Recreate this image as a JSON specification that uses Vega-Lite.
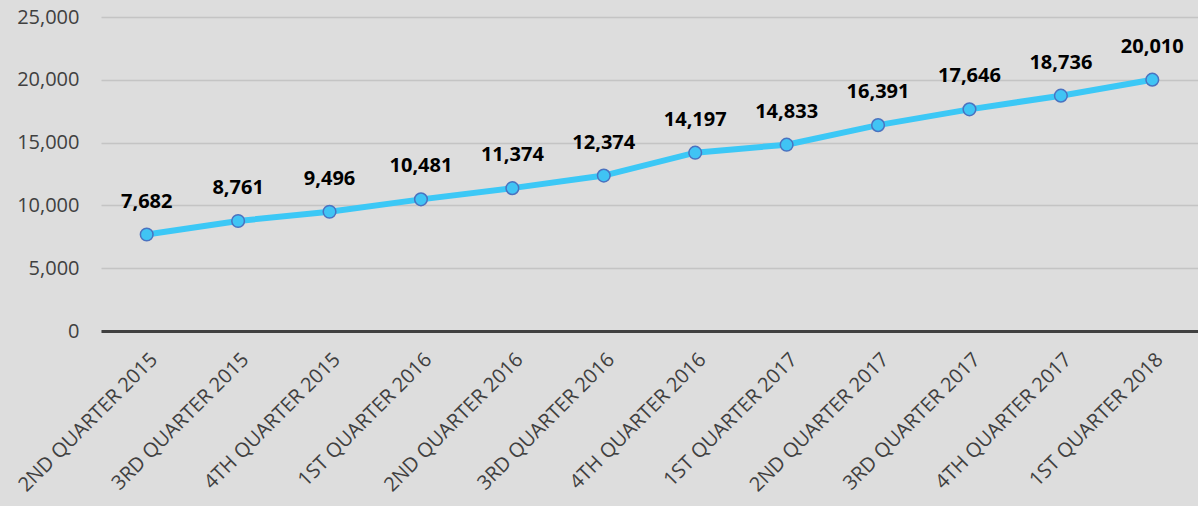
{
  "$schema": "https://vega.github.io/schema/vega-lite/v6.json",
  "width": 1097,
  "height": 314,
  "autosize": "none",
  "padding": {"left": 101, "top": 17, "right": 0, "bottom": 175},
  "background": "#dddddd",
  "config": {
    "view": {"stroke": null},
    "font": "Open Sans"
  },
  "data": {
    "values": [
      {"q": "2ND QUARTER 2015", "v": 7682},
      {"q": "3RD QUARTER 2015", "v": 8761},
      {"q": "4TH QUARTER 2015", "v": 9496},
      {"q": "1ST QUARTER 2016", "v": 10481},
      {"q": "2ND QUARTER 2016", "v": 11374},
      {"q": "3RD QUARTER 2016", "v": 12374},
      {"q": "4TH  QUARTER 2016", "v": 14197},
      {"q": "1ST QUARTER 2017", "v": 14833},
      {"q": "2ND QUARTER 2017", "v": 16391},
      {"q": "3RD QUARTER 2017", "v": 17646},
      {"q": "4TH QUARTER 2017", "v": 18736},
      {"q": "1ST QUARTER 2018", "v": 20010}
    ]
  },
  "encoding": {
    "x": {
      "field": "q", "type": "ordinal", "sort": null,
      "scale": {"type": "point", "padding": 0.5},
      "axis": {
        "title": null, "labelAngle": -45, "labelFontSize": 20, "labelColor": "#404040",
        "labelFont": "Open Sans", "ticks": false, "labelPadding": 18, "labelLimit": 0,
        "labelOverlap": false, "domainColor": "#404040", "domainWidth": 3, "grid": false
      }
    },
    "y": {
      "field": "v", "type": "quantitative",
      "scale": {"domain": [0, 25000]},
      "axis": {
        "title": null, "values": [0, 5000, 10000, 15000, 20000, 25000], "format": ",.0f",
        "labelFontSize": 20, "labelColor": "#404040", "labelPadding": 22,
        "ticks": false, "domain": false, "gridColor": "#c4c4c4", "gridWidth": 1.5
      }
    }
  },
  "layer": [
    {"mark": {"type": "line", "color": "#3cc8f6", "strokeWidth": 6}},
    {"mark": {"type": "point", "filled": true, "fill": "#40c4f4", "stroke": "#4a72c0", "strokeWidth": 1.5, "size": 160, "opacity": 1}},
    {
      "mark": {"type": "text", "dy": -33, "fontSize": 20, "fontWeight": "bold", "color": "#000000", "font": "Open Sans"},
      "encoding": {"text": {"field": "v", "type": "quantitative", "format": ","}}
    }
  ]
}
